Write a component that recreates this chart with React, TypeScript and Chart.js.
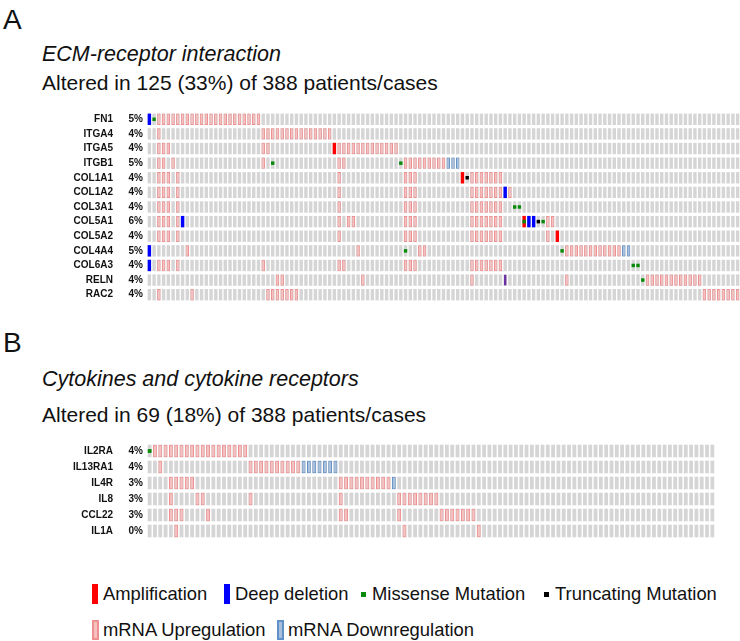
import React, { useEffect, useRef } from "react";
import { Chart, registerables } from "chart.js";
Chart.register(...registerables);

// ---------- Panel A data ----------
const GENES_A = ["FN1", "ITGA4", "ITGA5", "ITGB1", "COL1A1", "COL1A2", "COL3A1", "COL5A1", "COL5A2", "COL4A4", "COL6A3", "RELN", "RAC2"];
const PCT_A = ["5%", "4%", "4%", "5%", "4%", "4%", "4%", "6%", "4%", "5%", "4%", "4%", "4%"];
const CASES_SHOWN_A = 125;

type Item = [string, number, number]; // gene, first case column, last case column

const UP_A: Item[] = [
  ["FN1", 2, 23],
  ["ITGA4", 2, 2], ["ITGA4", 24, 38],
  ["ITGA5", 2, 4], ["ITGA5", 24, 25], ["ITGA5", 40, 52],
  ["ITGB1", 2, 3], ["ITGB1", 5, 5], ["ITGB1", 24, 24], ["ITGB1", 40, 41], ["ITGB1", 54, 62],
  ["COL1A1", 2, 4], ["COL1A1", 6, 6], ["COL1A1", 40, 40], ["COL1A1", 54, 56], ["COL1A1", 68, 74],
  ["COL1A2", 2, 4], ["COL1A2", 6, 6], ["COL1A2", 40, 40], ["COL1A2", 54, 56], ["COL1A2", 68, 74], ["COL1A2", 76, 76],
  ["COL3A1", 2, 4], ["COL3A1", 6, 6], ["COL3A1", 40, 40], ["COL3A1", 54, 56], ["COL3A1", 68, 74],
  ["COL5A1", 2, 4], ["COL5A1", 6, 6], ["COL5A1", 40, 40], ["COL5A1", 42, 43], ["COL5A1", 54, 56], ["COL5A1", 68, 74], ["COL5A1", 84, 85],
  ["COL5A2", 2, 4], ["COL5A2", 6, 6], ["COL5A2", 40, 40], ["COL5A2", 54, 56], ["COL5A2", 68, 74], ["COL5A2", 84, 84],
  ["COL4A4", 8, 8], ["COL4A4", 44, 44], ["COL4A4", 57, 58], ["COL4A4", 88, 99],
  ["COL6A3", 2, 4], ["COL6A3", 6, 6], ["COL6A3", 24, 24], ["COL6A3", 40, 41], ["COL6A3", 54, 56], ["COL6A3", 68, 74],
  ["RELN", 27, 28], ["RELN", 45, 45], ["RELN", 68, 68], ["RELN", 88, 88], ["RELN", 105, 116],
  ["RAC2", 2, 2], ["RAC2", 9, 9], ["RAC2", 25, 31], ["RAC2", 117, 124],
];
const DOWN_A: Item[] = [["ITGB1", 63, 65], ["COL4A4", 100, 101]];
const AMP_A: Item[] = [["ITGA5", 39, 39], ["COL1A1", 66, 66], ["COL5A1", 79, 79], ["COL5A2", 86, 86]];
const DEL_A: Item[] = [["FN1", 0, 0], ["COL4A4", 0, 0], ["COL6A3", 0, 0], ["COL5A1", 7, 7], ["COL1A2", 75, 75], ["COL5A1", 80, 81]];
const MIS_A: Item[] = [
  ["FN1", 1, 1], ["ITGB1", 26, 26], ["ITGB1", 53, 53], ["COL4A4", 54, 54], ["COL3A1", 77, 78],
  ["COL5A1", 79, 79], ["COL5A1", 83, 83], ["COL4A4", 87, 87], ["COL6A3", 102, 103], ["RELN", 104, 104],
];
const TRUNC_A: Item[] = [["COL1A1", 67, 67], ["COL5A1", 82, 82]];
const MIXED_A: Item[] = [["RELN", 75, 75]];

// ---------- Panel B data ----------
const GENES_B = ["IL2RA", "IL13RA1", "IL4R", "IL8", "CCL22", "IL1A"];
const PCT_B = ["4%", "4%", "3%", "3%", "3%", "0%"];
const CASES_SHOWN_B = 107;

const UP_B: Item[] = [
  ["IL2RA", 1, 18],
  ["IL13RA1", 2, 2], ["IL13RA1", 19, 28],
  ["IL4R", 4, 8], ["IL4R", 36, 45],
  ["IL8", 4, 4], ["IL8", 9, 10], ["IL8", 19, 19], ["IL8", 36, 36], ["IL8", 47, 54],
  ["CCL22", 4, 6], ["CCL22", 11, 11], ["CCL22", 36, 37], ["CCL22", 47, 47], ["CCL22", 55, 61],
  ["IL1A", 5, 5], ["IL1A", 48, 48], ["IL1A", 62, 62],
];
const DOWN_B: Item[] = [["IL13RA1", 29, 35], ["IL4R", 46, 46]];
const MIS_B: Item[] = [["IL2RA", 0, 0]];

// ---------- styles ----------
const C_GRAY = "#d5d5d5";
const C_UP_FILL = "#f6c0c0";
const C_UP_LINE = "#ef9090";
const C_DOWN_FILL = "#a9c0dc";
const C_DOWN_LINE = "#6090c8";
const C_AMP = "#ff0000";
const C_DEL = "#0000ff";
const C_MIS = "#0a8a0a";
const C_TRUNC = "#000000";
const C_MIXED = "#6b2fa6";
const FONT = "Arial, 'Liberation Sans', Helvetica, sans-serif";

interface Layer {
  items: Item[];
  half: number;
  bg: string;
  border?: string;
  bw?: number;
  order: number;
  barPct?: number;
}

function buildDatasets(genes: string[], n: number, layers: Layer[]) {
  const ds: any[] = [];
  for (const L of layers) {
    genes.forEach((g, gi) => {
      const its = L.items.filter((it) => it[0] === g);
      if (!its.length) return;
      const data: any[] = new Array(n).fill(null);
      for (const [, a, b] of its) {
        for (let k = a; k <= b && k < n; k++) data[k] = [gi - L.half, gi + L.half];
      }
      ds.push({
        label: g,
        data,
        backgroundColor: L.bg,
        borderColor: L.border ?? L.bg,
        borderWidth: L.bw ?? 0,
        borderSkipped: false,
        order: L.order,
        grouped: false,
        barPercentage: L.barPct ?? 0.72,
        categoryPercentage: 1,
        yAxisID: "y",
        xAxisID: "x",
      });
    });
  }
  return ds;
}

interface OncoProps {
  genes: string[];
  pcts: string[];
  n: number;
  layers: Layer[];
  left: number;
  top: number;
  width: number;
  height: number;
  pad: number;
}

function OncoPrint(p: OncoProps) {
  const ref = useRef<HTMLCanvasElement | null>(null);
  useEffect(() => {
    if (!ref.current) return;
    const labels = Array.from({ length: p.n }, (_, i) => String(i + 1));
    const gridLayer: Layer = { items: p.genes.map((g) => [g, 0, p.n - 1] as Item), half: p.layers[0].half, bg: C_GRAY, order: 20 };
    const datasets = buildDatasets(p.genes, p.n, [gridLayer, ...p.layers]);
    const last = p.genes.length - 0.5;
    const tickFont = { family: FONT, size: 10, weight: "bold" as const };
    const chart = new Chart(ref.current, {
      type: "bar",
      data: { labels, datasets },
      options: {
        responsive: false,
        animation: false,
        events: [],
        layout: { padding: { top: p.pad, bottom: p.pad, left: 0, right: 0 } },
        plugins: { legend: { display: false }, tooltip: { enabled: false } },
        datasets: { bar: { grouped: false } as any },
        scales: {
          x: { type: "category", display: false, offset: true },
          y: {
            type: "linear",
            position: "left",
            weight: 2,
            min: -0.5,
            max: last,
            reverse: true,
            grid: { display: false, drawTicks: false },
            border: { display: false },
            afterBuildTicks: (axis: any) => {
              axis.ticks = p.genes.map((_, i) => ({ value: i }));
            },
            afterFit: (axis: any) => {
              axis.width = 117;
            },
            ticks: {
              autoSkip: false,
              padding: 4,
              color: "#111",
              font: tickFont,
              callback: (v: any) => p.genes[Math.round(Number(v))] ?? "",
            },
          },
          y2: {
            type: "linear",
            position: "left",
            weight: 1,
            min: -0.5,
            max: last,
            reverse: true,
            grid: { display: false, drawTicks: false },
            border: { display: false },
            afterBuildTicks: (axis: any) => {
              axis.ticks = p.pcts.map((_, i) => ({ value: i }));
            },
            afterFit: (axis: any) => {
              axis.width = 30;
            },
            ticks: {
              autoSkip: false,
              padding: 4,
              color: "#111",
              font: tickFont,
              callback: (v: any) => p.pcts[Math.round(Number(v))] ?? "",
            },
          },
        },
      } as any,
    });
    return () => chart.destroy();
  }, []);
  return (
    <canvas
      ref={ref}
      width={p.width}
      height={p.height}
      style={{ position: "absolute", left: p.left, top: p.top, width: p.width, height: p.height }}
    />
  );
}

function Txt(props: { x: number; cy: number; size: number; italic?: boolean; children: any }) {
  const { x, cy, size, italic, children } = props;
  return (
    <div
      style={{
        position: "absolute",
        left: x,
        top: cy - size / 2,
        fontSize: size,
        lineHeight: `${size}px`,
        fontStyle: italic ? "italic" : "normal",
        fontFamily: FONT,
        color: "#111",
        whiteSpace: "nowrap",
      }}
    >
      {children}
    </div>
  );
}

function Box(props: { x: number; cy: number; w: number; h: number; bg: string; border?: string }) {
  const { x, cy, w, h, bg, border } = props;
  return (
    <div
      style={{
        position: "absolute",
        left: x,
        top: cy - h / 2,
        width: w,
        height: h,
        background: bg,
        boxSizing: "border-box",
        border: border ? `2px solid ${border}` : undefined,
      }}
    />
  );
}

const LAYERS_A: Layer[] = [
  { items: UP_A, half: 0.39, bg: C_UP_FILL, border: C_UP_LINE, bw: 1, order: 10 },
  { items: DOWN_A, half: 0.39, bg: C_DOWN_FILL, border: C_DOWN_LINE, bw: 1, order: 10 },
  { items: AMP_A, half: 0.39, bg: C_AMP, order: 5 },
  { items: DEL_A, half: 0.39, bg: C_DEL, order: 5 },
  { items: MIXED_A, half: 0.36, bg: C_MIXED, order: 5, barPct: 0.5 },
  { items: MIS_A, half: 0.12, bg: C_MIS, order: 1 },
  { items: TRUNC_A, half: 0.12, bg: C_TRUNC, order: 1 },
];

const LAYERS_B: Layer[] = [
  { items: UP_B, half: 0.395, bg: C_UP_FILL, border: C_UP_LINE, bw: 1, order: 10 },
  { items: DOWN_B, half: 0.395, bg: C_DOWN_FILL, border: C_DOWN_LINE, bw: 1, order: 10 },
  { items: MIS_B, half: 0.12, bg: C_MIS, order: 1 },
];

export default function App() {
  const LF = 18.4;
  const r1 = 594;
  const r2 = 630;
  return (
    <div style={{ position: "absolute", left: 0, top: 0, width: 740, height: 641, overflow: "hidden", background: "#fff" }}>
      <Txt x={3} cy={19.5} size={28}>A</Txt>
      <Txt x={42} cy={55} size={21.5} italic>ECM-receptor interaction</Txt>
      <Txt x={42} cy={82} size={21}>Altered in 125 (33%) of 388 patients/cases</Txt>
      <OncoPrint genes={GENES_A} pcts={PCT_A} n={CASES_SHOWN_A} layers={LAYERS_A} left={0} top={102} width={740} height={210} pad={8} />

      <Txt x={3} cy={342.5} size={28}>B</Txt>
      <Txt x={42} cy={380} size={21.5} italic>Cytokines and cytokine receptors</Txt>
      <Txt x={42} cy={414} size={21}>Altered in 69 (18%) of 388 patients/cases</Txt>
      <OncoPrint genes={GENES_B} pcts={PCT_B} n={CASES_SHOWN_B} layers={LAYERS_B} left={0} top={433} width={715} height={116} pad={8} />

      <Box x={92} cy={r1} w={6} h={20} bg={C_AMP} />
      <Txt x={103} cy={r1} size={LF}>Amplification</Txt>
      <Box x={224} cy={r1} w={6} h={20} bg={C_DEL} />
      <Txt x={235} cy={r1} size={LF}>Deep deletion</Txt>
      <Box x={361} cy={r1} w={5} h={5} bg={C_MIS} />
      <Txt x={372} cy={r1} size={LF}>Missense Mutation</Txt>
      <Box x={544} cy={r1} w={5} h={5} bg={C_TRUNC} />
      <Txt x={555} cy={r1} size={LF}>Truncating Mutation</Txt>

      <Box x={92} cy={r2} w={7} h={20} bg={C_UP_FILL} border={C_UP_LINE} />
      <Txt x={103} cy={r2} size={LF}>mRNA Upregulation</Txt>
      <Box x={277} cy={r2} w={7} h={20} bg={C_DOWN_FILL} border={C_DOWN_LINE} />
      <Txt x={288} cy={r2} size={LF}>mRNA Downregulation</Txt>
    </div>
  );
}
